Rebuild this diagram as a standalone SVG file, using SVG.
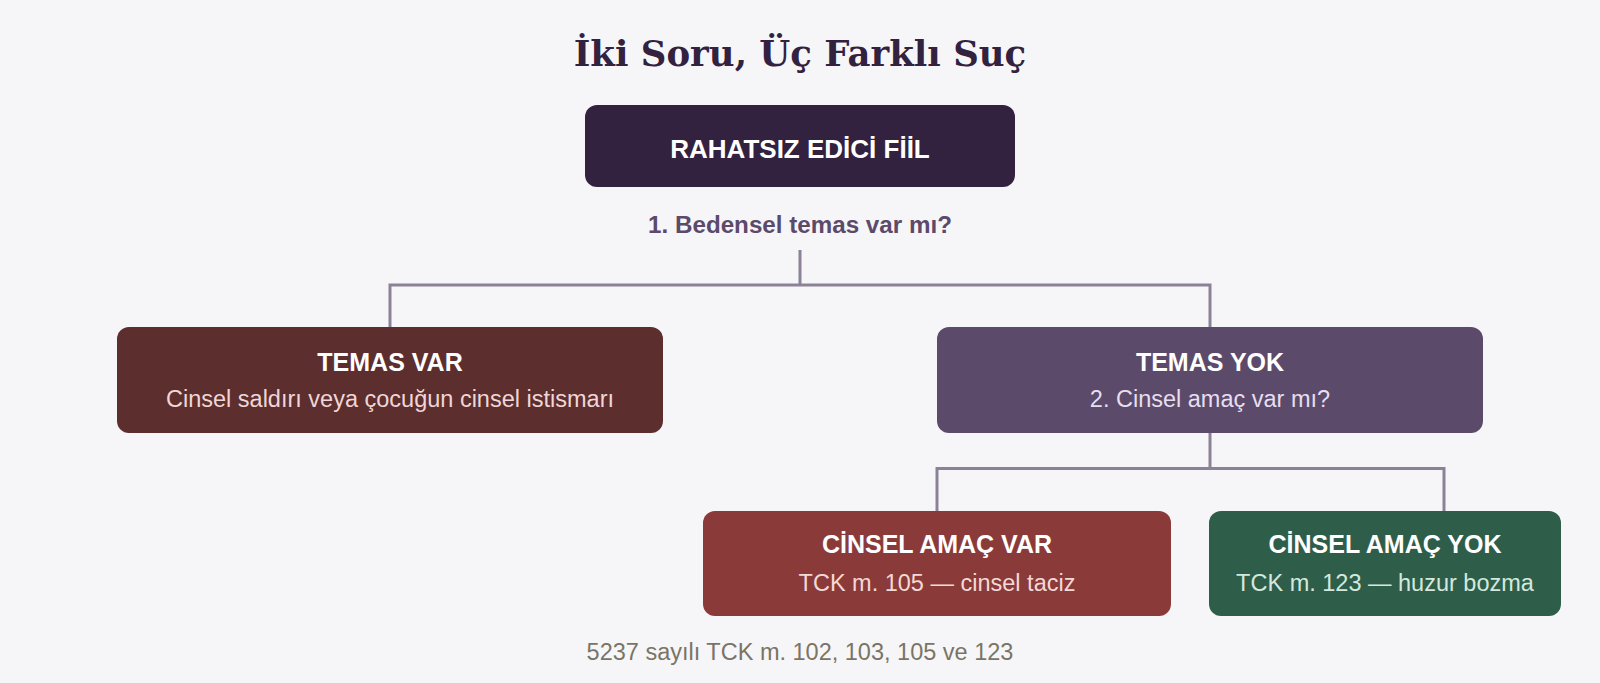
<svg xmlns="http://www.w3.org/2000/svg" width="1600" height="683" viewBox="0 0 1600 683">
<style>
.title{font-family:"DejaVu Serif","Liberation Serif",serif;font-weight:bold;font-size:35.5px;fill:#33223f;text-anchor:middle}
.nt{font-family:"Liberation Sans",Arial,sans-serif;font-weight:bold;font-size:25px;fill:#ffffff;text-anchor:middle}
.ns{font-family:"Liberation Sans",Arial,sans-serif;font-size:23.5px;text-anchor:middle}
.q{font-family:"Liberation Sans",Arial,sans-serif;font-weight:bold;font-size:24.2px;fill:#5c4a6b;text-anchor:middle}
.foot{font-family:"Liberation Sans",Arial,sans-serif;font-size:23.5px;fill:#7a7466;text-anchor:middle}
.conn{fill:none;stroke:#8c8298;stroke-width:3;stroke-linejoin:miter;stroke-linecap:butt}
</style>
<rect x="0" y="0" width="1600" height="683" fill="#f6f6f8"/>
<text class="title" x="800" y="66">İki Soru, Üç Farklı Suç</text>
<g id="connectors">
<path class="conn" d="M800 250 V285 M390 327 V285 H1210 V327"/>
<path class="conn" d="M1210 433 V468.5 M937 511 V468.5 H1444 V511"/>
</g>
<g id="node-root">
<rect x="585" y="105" width="430" height="82" rx="12" fill="#33223f"/>
<text class="nt" x="800" y="158" style="font-size:26px">RAHATSIZ EDİCİ FİİL</text>
</g>
<g id="question-1">
<text class="q" x="800" y="233">1. Bedensel temas var mı?</text>
</g>
<g id="node-temas-var">
<rect x="117" y="327" width="546" height="106" rx="12" fill="#5c2e2e"/>
<text class="nt" x="390" y="371">TEMAS VAR</text>
<text class="ns" x="390" y="407" fill="#f0d6d6">Cinsel saldırı veya çocuğun cinsel istismarı</text>
</g>
<g id="node-temas-yok">
<rect x="937" y="327" width="546" height="106" rx="12" fill="#5c4a6b"/>
<text class="nt" x="1210" y="371">TEMAS YOK</text>
<text class="ns" x="1210" y="407" fill="#e6dff0">2. Cinsel amaç var mı?</text>
</g>
<g id="node-amac-var">
<rect x="703" y="511" width="468" height="105" rx="12" fill="#8b3a3a"/>
<text class="nt" x="937" y="553">CİNSEL AMAÇ VAR</text>
<text class="ns" x="937" y="591" fill="#f3d9d6">TCK m. 105 — cinsel taciz</text>
</g>
<g id="node-amac-yok">
<rect x="1209" y="511" width="352" height="105" rx="12" fill="#2e5e4a"/>
<text class="nt" x="1385" y="553">CİNSEL AMAÇ YOK</text>
<text class="ns" x="1385" y="591" fill="#d5e8dd">TCK m. 123 — huzur bozma</text>
</g>
<text class="foot" x="800" y="660">5237 sayılı TCK m. 102, 103, 105 ve 123</text>
</svg>
